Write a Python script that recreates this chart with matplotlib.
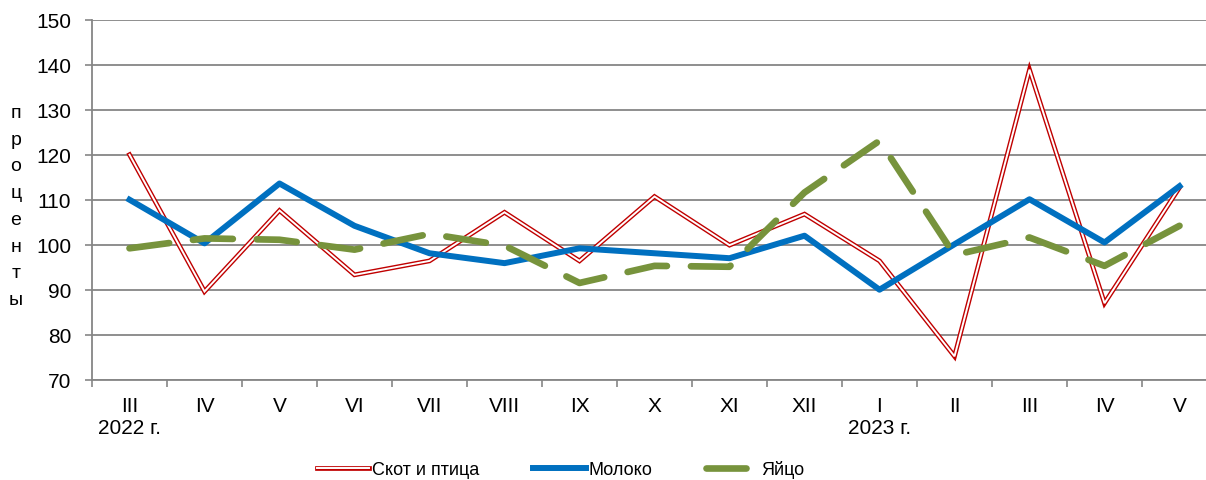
import matplotlib
matplotlib.use('Agg')
import matplotlib.pyplot as plt

plt.rcParams['font.family'] = ['Liberation Sans', 'DejaVu Sans']
plt.rcParams['font.size'] = 15

months = ['III\n2022 г.', 'IV', 'V', 'VI', 'VII', 'VIII', 'IX', 'X', 'XI', 'XII',
          'I\n2023 г.', 'II', 'III', 'IV', 'V']
skot = [120, 89.6, 107.6, 93.3, 96.4, 107.2, 96.4, 110.7, 99.9, 106.8, 96.4, 75.2, 138.9, 87.0, 112.7]
moloko = [110, 100.3, 113.6, 104.2, 98.1, 95.9, 99.2, 98.1, 97.0, 102, 90, 100.1, 110.1, 100.5, 113]
yaytso = [99.2, 101.4, 101.1, 98.9, 102.4, 99.8, 91.5, 95.3, 95.1, 111.6, 123.1, 97.7, 101.6, 95.3, 104.2]

grid_color = '#868686'

fig = plt.figure(figsize=(12.06, 4.81), dpi=100)
ax = fig.add_axes([92/1206, 1 - 380.7/481, 1125/1206, 360/481])

x = list(range(len(months)))

# Скот и птица - double red line
red_outer, = ax.plot(x, skot, color='#C00000', lw=3.4, solid_joinstyle='miter', zorder=3)
red_inner, = ax.plot(x, skot, color='white', lw=1.4, solid_joinstyle='miter', zorder=3)
blue, = ax.plot(x, moloko, color='#0070C0', lw=4.3, solid_joinstyle='round', zorder=4)
green, = ax.plot(x, yaytso, color='#77933C', lw=4.8, dashes=(6.0, 3.6),
                 dash_capstyle='round', solid_joinstyle='round', zorder=5)

ax.set_ylim(70, 150)
ax.set_yticks(range(70, 151, 10))
ax.set_xlim(-0.5, len(months) - 0.5)
ax.set_xticks(x)
ax.set_xticklabels(months)
ax.set_xticks([i + 0.5 for i in range(-1, len(months))], minor=True)
ax.tick_params(axis='x', which='major', length=0, pad=12)
ax.tick_params(axis='x', which='minor', length=5, color=grid_color, width=1.2)
ax.tick_params(axis='y', length=5, color=grid_color, width=1.2, pad=10)

ax.grid(axis='y', color=grid_color, lw=1.3)
ax.set_axisbelow(True)
for s in ['top', 'right']:
    ax.spines[s].set_visible(False)
for s in ['left', 'bottom']:
    ax.spines[s].set_color(grid_color)
    ax.spines[s].set_linewidth(1.3)

# vertical stacked y label
fig.text(16/1206, 1 - 207/481, '\n'.join('проценты'), ha='center', va='center',
         linespacing=1.75, fontsize=14)

leg = fig.legend([(red_outer, red_inner), blue, green], ['Скот и птица', 'Молоко', 'Яйцо'],
                 loc='center', bbox_to_anchor=(0.465, 1 - 470/481), ncol=3, frameon=False,
                 handlelength=2.9, handletextpad=0.15, columnspacing=3.0, fontsize=13)

plt.savefig('out.png', dpi=100)
